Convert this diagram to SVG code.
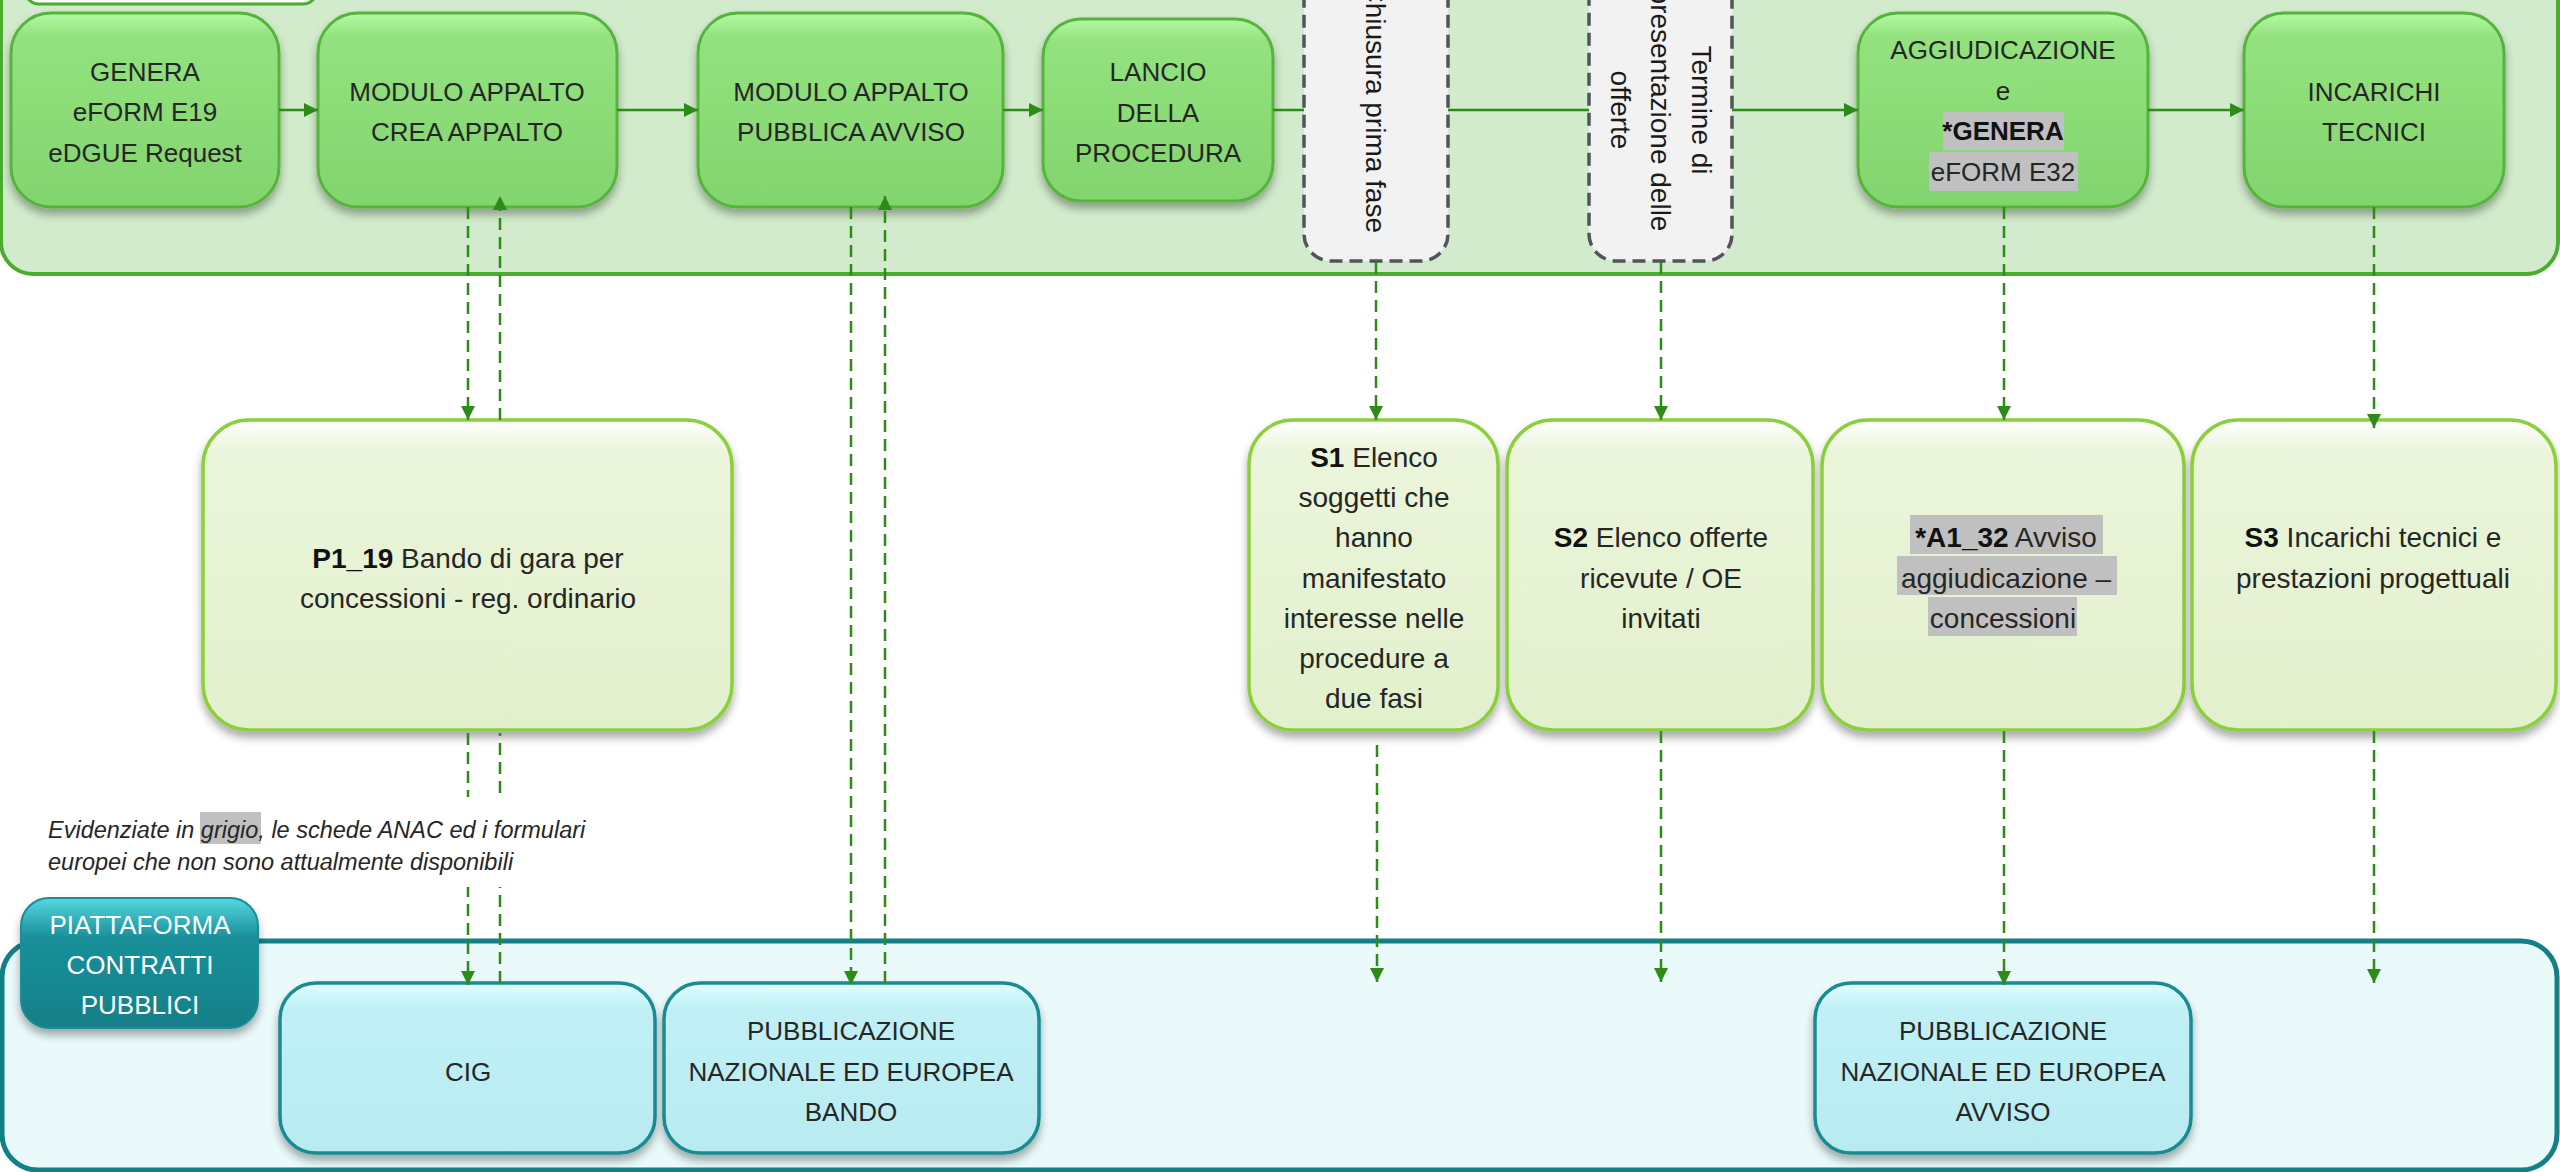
<svg xmlns="http://www.w3.org/2000/svg" width="2560" height="1172" viewBox="0 0 2560 1172">
<defs>
<style>
.t{font-family:"Liberation Sans",Arial,sans-serif;fill:#262626;text-anchor:middle}
.up{font-size:26px}
.lo{font-size:28px}
.rot{font-family:"Liberation Sans",Arial,sans-serif;font-size:28px;fill:#1a1a1a}
.b{font-weight:bold;fill:#111}
.note{font-family:"Liberation Sans",Arial,sans-serif;font-size:23.5px;font-style:italic;fill:#262626}
.nTop{fill:url(#gTop);stroke:#55b43a;stroke-width:3;filter:url(#sh)}
.nLow{fill:url(#gLow);stroke:#8ccf3c;stroke-width:3.5;filter:url(#sh)}
.nCy{fill:url(#gCyan);stroke:#1b8a93;stroke-width:3.5;filter:url(#sh)}
.nDash{fill:#f2f2f2;stroke:#50555c;stroke-width:3.5;stroke-dasharray:13 7}
.dash{stroke:#2d8c17;stroke-width:2.5;stroke-dasharray:12 7;fill:none}
.solid{stroke:#2d8c17;stroke-width:2.5;fill:none}
.hl{fill:#c0c0c0}
</style>
<linearGradient id="gTop" x1="0" y1="0" x2="0" y2="1">
<stop offset="0" stop-color="#b4f9a4"/>
<stop offset="0.12" stop-color="#93e27f"/>
<stop offset="1" stop-color="#82d46e"/>
</linearGradient>
<linearGradient id="gLow" x1="0" y1="0" x2="0" y2="1">
<stop offset="0" stop-color="#ffffff"/>
<stop offset="0.1" stop-color="#ebf5db"/>
<stop offset="1" stop-color="#e2f0cc"/>
</linearGradient>
<linearGradient id="gCyan" x1="0" y1="0" x2="0" y2="1">
<stop offset="0" stop-color="#e2feff"/>
<stop offset="0.14" stop-color="#c0f0f5"/>
<stop offset="1" stop-color="#b8ebf0"/>
</linearGradient>
<linearGradient id="gTeal" x1="0" y1="0" x2="0" y2="1">
<stop offset="0" stop-color="#55d8e2"/>
<stop offset="0.3" stop-color="#1a909a"/>
<stop offset="1" stop-color="#127f88"/>
</linearGradient>
<filter id="sh" x="-10%" y="-10%" width="120%" height="130%">
<feDropShadow dx="0" dy="6" stdDeviation="4" flood-color="#000" flood-opacity="0.33"/>
</filter>
<marker id="ah" viewBox="0 0 10 10" refX="10" refY="5" markerUnits="userSpaceOnUse" markerWidth="15" markerHeight="14" orient="auto">
<path d="M0,0 L10,5 L0,10 z" fill="#2d8c17"/>
</marker>
</defs>

<rect width="2560" height="1172" fill="#ffffff"/>

<g id="container-top">
<rect x="1" y="-60" width="2557" height="334" rx="32" fill="#d2ebcc" stroke="#4aad2e" stroke-width="4"/>
<rect x="25" y="-40" width="292" height="44" rx="14" fill="#ffffff" stroke="#4aad2e" stroke-width="3"/>
</g>

<g id="container-bottom">
<rect x="2" y="941" width="2555" height="229" rx="36" fill="#eaf9fa" stroke="#137f87" stroke-width="5"/>
</g>

<g id="n-genera">
<rect class="nTop" x="11" y="13" width="268" height="194" rx="40"/>
<text class="t up" x="145" y="81">GENERA</text>
<text class="t up" x="145" y="121">eFORM E19</text>
<text class="t up" x="145" y="162">eDGUE Request</text>
</g>
<g id="n-crea">
<rect class="nTop" x="318" y="13" width="299" height="194" rx="40"/>
<text class="t up" x="467" y="101">MODULO APPALTO</text>
<text class="t up" x="467" y="141">CREA APPALTO</text>
</g>
<g id="n-pubblica">
<rect class="nTop" x="698" y="13" width="305" height="194" rx="40"/>
<text class="t up" x="851" y="101">MODULO APPALTO</text>
<text class="t up" x="851" y="141">PUBBLICA AVVISO</text>
</g>
<g id="n-lancio">
<rect class="nTop" x="1043" y="19" width="230" height="182" rx="38"/>
<text class="t up" x="1158" y="81">LANCIO</text>
<text class="t up" x="1158" y="122">DELLA</text>
<text class="t up" x="1158" y="162">PROCEDURA</text>
</g>
<g id="n-chiusura">
<rect class="nDash" x="1304" y="-40" width="144" height="301" rx="27"/>
<text class="rot" text-anchor="end" transform="translate(1366,233) rotate(90)">Chiusura prima fase</text>
</g>
<g id="n-termine">
<rect class="nDash" x="1589" y="-40" width="143" height="301" rx="27"/>
<text class="rot" text-anchor="middle" transform="translate(1692,110) rotate(90)">Termine di</text>
<text class="rot" text-anchor="middle" transform="translate(1651,110) rotate(90)">presentazione delle</text>
<text class="rot" text-anchor="middle" transform="translate(1611,110) rotate(90)">offerte</text>
</g>
<g id="n-aggiudicazione">
<rect class="nTop" x="1858" y="13" width="290" height="194" rx="40"/>
<rect class="hl" x="1943" y="112" width="121" height="38"/>
<rect class="hl" x="1929" y="152" width="149" height="39"/>
<text class="t up" x="2003" y="59">AGGIUDICAZIONE</text>
<text class="t up" x="2003" y="100">e</text>
<text class="t up b" x="2003" y="140">*GENERA</text>
<text class="t up" x="2003" y="181">eFORM E32</text>
</g>
<g id="n-incarichi">
<rect class="nTop" x="2244" y="13" width="260" height="194" rx="40"/>
<text class="t up" x="2374" y="101">INCARICHI</text>
<text class="t up" x="2374" y="141">TECNICI</text>
</g>

<g id="n-p1">
<rect class="nLow" x="203" y="420" width="529" height="310" rx="46"/>
<text class="t lo" x="468" y="568"><tspan class="b">P1_19</tspan> Bando di gara per</text>
<text class="t lo" x="468" y="608">concessioni - reg. ordinario</text>
</g>
<g id="n-s1">
<rect class="nLow" x="1249" y="420" width="249" height="310" rx="44"/>
<text class="t lo" x="1374" y="467"><tspan class="b">S1</tspan> Elenco</text>
<text class="t lo" x="1374" y="507">soggetti che</text>
<text class="t lo" x="1374" y="547">hanno</text>
<text class="t lo" x="1374" y="588">manifestato</text>
<text class="t lo" x="1374" y="628">interesse nelle</text>
<text class="t lo" x="1374" y="668">procedure a</text>
<text class="t lo" x="1374" y="708">due fasi</text>
</g>
<g id="n-s2">
<rect class="nLow" x="1507" y="420" width="306" height="310" rx="46"/>
<text class="t lo" x="1661" y="547"><tspan class="b">S2</tspan> Elenco offerte</text>
<text class="t lo" x="1661" y="588">ricevute / OE</text>
<text class="t lo" x="1661" y="628">invitati</text>
</g>
<g id="n-a1">
<rect class="nLow" x="1822" y="420" width="362" height="310" rx="46"/>
<rect class="hl" x="1910" y="515" width="193" height="39"/>
<rect class="hl" x="1897" y="556" width="220" height="39"/>
<rect class="hl" x="1928" y="597" width="149" height="39"/>
<text class="t lo" x="2006" y="547"><tspan class="b">*A1_32</tspan> Avviso</text>
<text class="t lo" x="2006" y="588">aggiudicazione –</text>
<text class="t lo" x="2003" y="628">concessioni</text>
</g>
<g id="n-s3">
<rect class="nLow" x="2192" y="420" width="364" height="310" rx="46"/>
<text class="t lo" x="2373" y="547"><tspan class="b">S3</tspan> Incarichi tecnici e</text>
<text class="t lo" x="2373" y="588">prestazioni progettuali</text>
</g>

<g id="n-piattaforma">
<rect x="21" y="898" width="237" height="130" rx="28" fill="url(#gTeal)" stroke="#1a8c95" stroke-width="2" filter="url(#sh)"/>
<text class="t up" x="140" y="934" style="fill:#ffffff">PIATTAFORMA</text>
<text class="t up" x="140" y="974" style="fill:#ffffff">CONTRATTI</text>
<text class="t up" x="140" y="1014" style="fill:#ffffff">PUBBLICI</text>
</g>
<g id="n-cig">
<rect class="nCy" x="280" y="983" width="375" height="170" rx="36"/>
<text class="t up" x="468" y="1081">CIG</text>
</g>
<g id="n-pub-bando">
<rect class="nCy" x="664" y="983" width="375" height="170" rx="36"/>
<text class="t up" x="851" y="1040">PUBBLICAZIONE</text>
<text class="t up" x="851" y="1081">NAZIONALE ED EUROPEA</text>
<text class="t up" x="851" y="1121">BANDO</text>
</g>
<g id="n-pub-avviso">
<rect class="nCy" x="1815" y="983" width="376" height="170" rx="36"/>
<text class="t up" x="2003" y="1040">PUBBLICAZIONE</text>
<text class="t up" x="2003" y="1081">NAZIONALE ED EUROPEA</text>
<text class="t up" x="2003" y="1121">AVVISO</text>
</g>

<g id="connectors">
<line class="solid" x1="279" y1="110" x2="318" y2="110" marker-end="url(#ah)"/>
<line class="solid" x1="617" y1="110" x2="698" y2="110" marker-end="url(#ah)"/>
<line class="solid" x1="1003" y1="110" x2="1043" y2="110" marker-end="url(#ah)"/>
<line class="solid" x1="1273" y1="110" x2="1304" y2="110"/>
<line class="solid" x1="1448" y1="110" x2="1589" y2="110"/>
<line class="solid" x1="1732" y1="110" x2="1858" y2="110" marker-end="url(#ah)"/>
<line class="solid" x1="2148" y1="110" x2="2244" y2="110" marker-end="url(#ah)"/>

<line class="dash" x1="468" y1="207" x2="468" y2="420" marker-end="url(#ah)"/>
<line class="dash" x1="468" y1="733" x2="468" y2="985" marker-end="url(#ah)"/>
<line class="dash" x1="500" y1="983" x2="500" y2="733"/>
<line class="dash" x1="500" y1="420" x2="500" y2="196" marker-end="url(#ah)"/>
<line class="dash" x1="851" y1="207" x2="851" y2="985" marker-end="url(#ah)"/>
<line class="dash" x1="885" y1="983" x2="885" y2="196" marker-end="url(#ah)"/>
<line class="dash" x1="1376" y1="262" x2="1376" y2="420" marker-end="url(#ah)"/>
<line class="dash" x1="1377" y1="745" x2="1377" y2="982" marker-end="url(#ah)"/>
<line class="dash" x1="1661" y1="262" x2="1661" y2="420" marker-end="url(#ah)"/>
<line class="dash" x1="1661" y1="731" x2="1661" y2="982" marker-end="url(#ah)"/>
<line class="dash" x1="2004" y1="207" x2="2004" y2="420" marker-end="url(#ah)"/>
<line class="dash" x1="2004" y1="731" x2="2004" y2="985" marker-end="url(#ah)"/>
<line class="dash" x1="2374" y1="207" x2="2374" y2="428" marker-end="url(#ah)"/>
<line class="dash" x1="2374" y1="731" x2="2374" y2="983" marker-end="url(#ah)"/>
</g>

<g id="note">
<rect x="40" y="797" width="565" height="90" fill="#ffffff"/>
<rect class="hl" x="200" y="812" width="61" height="32"/>
<text class="note" x="48" y="838">Evidenziate in grigio, le schede ANAC ed i formulari</text>
<text class="note" x="48" y="870">europei che non sono attualmente disponibili</text>
</g>
</svg>
